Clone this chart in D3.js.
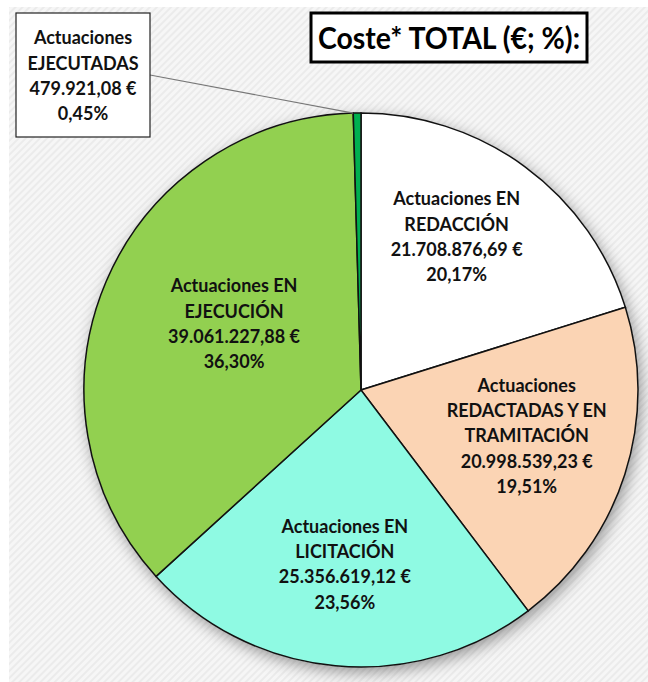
<!DOCTYPE html>
<html>
<head>
<meta charset="utf-8">
<script src="https://cdn.jsdelivr.net/npm/d3@7"></script>
<style>
    body { margin: 0; background: #fff; }
    svg { display: block; }
</style>
</head>
<body>
<svg width="648" height="682"></svg>
<script>
// Data
const categories = [
    ['Actuaciones EN', 'REDACCIÓN'],
    ['Actuaciones', 'REDACTADAS Y EN', 'TRAMITACIÓN'],
    ['Actuaciones EN', 'LICITACIÓN'],
    ['Actuaciones EN', 'EJECUCIÓN'],
    ['Actuaciones', 'EJECUTADAS']
];
const costs = [21708876.69, 20998539.23, 25356619.12, 39061227.88, 479921.08];
const costLabels = ['21.708.876,69 €', '20.998.539,23 €', '25.356.619,12 €', '39.061.227,88 €', '479.921,08 €'];
const pctLabels = ['20,17%', '19,51%', '23,56%', '36,30%', '0,45%'];
const colors = ['#ffffff', '#fbd4b4', '#8ffae3', '#92d050', '#00b050'];
const title = 'Coste* TOTAL (€; %):';

const width = 648;
const height = 682;
const svg = d3.select('svg');
const font = 'Lato, "Open Sans", sans-serif';

const cx = 361, cy = 390, radius = 277;

// background with faint diagonal hatch
const defs = svg.append('defs');
const pat = defs.append('pattern')
    .attr('id', 'hatch')
    .attr('width', 5).attr('height', 5)
    .attr('patternUnits', 'userSpaceOnUse')
    .attr('patternTransform', 'rotate(-45)');
pat.append('rect').attr('width', 5).attr('height', 5).attr('fill', '#f6f6f6');
pat.append('rect').attr('width', 5).attr('height', 2).attr('fill', '#ebebeb');

const shadow = defs.append('filter')
    .attr('id', 'shadow')
    .attr('x', '-20%').attr('y', '-20%')
    .attr('width', '140%').attr('height', '140%');
shadow.append('feDropShadow')
    .attr('dx', 3).attr('dy', 5)
    .attr('stdDeviation', 8)
    .attr('flood-color', '#000')
    .attr('flood-opacity', 0.4);

svg.append('rect')
    .attr('x', 9).attr('y', 7)
    .attr('width', width - 9).attr('height', height - 7)
    .attr('fill', 'url(#hatch)');

// pie
const pie = d3.pie().sort(null).value(d => d);
const arcs = pie(costs);
const arc = d3.arc().innerRadius(0).outerRadius(radius);

const g = svg.append('g').attr('transform', `translate(${cx},${cy})`);

g.append('circle')
    .attr('r', radius)
    .attr('fill', '#fff')
    .attr('filter', 'url(#shadow)');

g.selectAll('path')
    .data(arcs)
    .enter().append('path')
    .attr('d', arc)
    .attr('fill', (d, i) => colors[i])
    .attr('stroke', '#111')
    .attr('stroke-width', 1.5);

// labels inside slices
const labelR = [175, 174, 175, 138];
const nudge = [[-8, -12], [0, -7], [0, 0], [0, -12]];
const lineH = 25.3;

arcs.slice(0, 4).forEach((d, i) => {
    const c = d3.arc().innerRadius(labelR[i]).outerRadius(labelR[i]).centroid(d);
    const x = c[0] + nudge[i][0];
    const lines = categories[i].concat([costLabels[i], pctLabels[i]]);
    const y0 = c[1] + nudge[i][1] - (lines.length - 1) * lineH / 2;
    const t = g.append('text')
        .attr('text-anchor', 'middle')
        .attr('font-family', font)
        .attr('font-size', 18)
        .attr('font-weight', 'bold')
        .attr('fill', '#111');
    lines.forEach((l, j) => {
        t.append('tspan')
            .attr('x', x)
            .attr('y', y0 + j * lineH)
            .attr('dy', '0.35em')
            .text(l);
    });
});

// callout for the tiny slice
const small = arcs[4];
const edge = d3.arc().innerRadius(radius).outerRadius(radius).centroid({startAngle: small.startAngle, endAngle: small.startAngle});
const box = {x: 16, y: 13, w: 134, h: 124};

svg.append('line')
    .attr('x1', box.x + box.w).attr('y1', box.y + 62)
    .attr('x2', cx + edge[0]).attr('y2', cy + edge[1])
    .attr('stroke', '#777')
    .attr('stroke-width', 1.2);

svg.append('rect')
    .attr('x', box.x).attr('y', box.y)
    .attr('width', box.w).attr('height', box.h)
    .attr('fill', '#fff')
    .attr('stroke', '#222')
    .attr('stroke-width', 1.2);

const smallLines = categories[4].concat([costLabels[4], pctLabels[4]]);
const st = svg.append('text')
    .attr('text-anchor', 'middle')
    .attr('font-family', font)
    .attr('font-size', 18)
    .attr('font-weight', 'bold')
    .attr('fill', '#111');
smallLines.forEach((l, j) => {
    st.append('tspan')
        .attr('x', box.x + box.w / 2)
        .attr('y', 38 + j * lineH)
        .attr('dy', '0.35em')
        .text(l);
});

// title
svg.append('rect')
    .attr('x', 311).attr('y', 13)
    .attr('width', 276).attr('height', 49)
    .attr('fill', '#fff')
    .attr('stroke', '#000')
    .attr('stroke-width', 3);

svg.append('text')
    .attr('x', 449).attr('y', 38)
    .attr('dy', '0.35em')
    .attr('text-anchor', 'middle')
    .attr('font-family', font)
    .attr('font-size', 31)
    .attr('font-weight', 'bold')
    .attr('textLength', 262)
    .attr('lengthAdjust', 'spacingAndGlyphs')
    .attr('fill', '#000')
    .text(title);
</script>
</body>
</html>
